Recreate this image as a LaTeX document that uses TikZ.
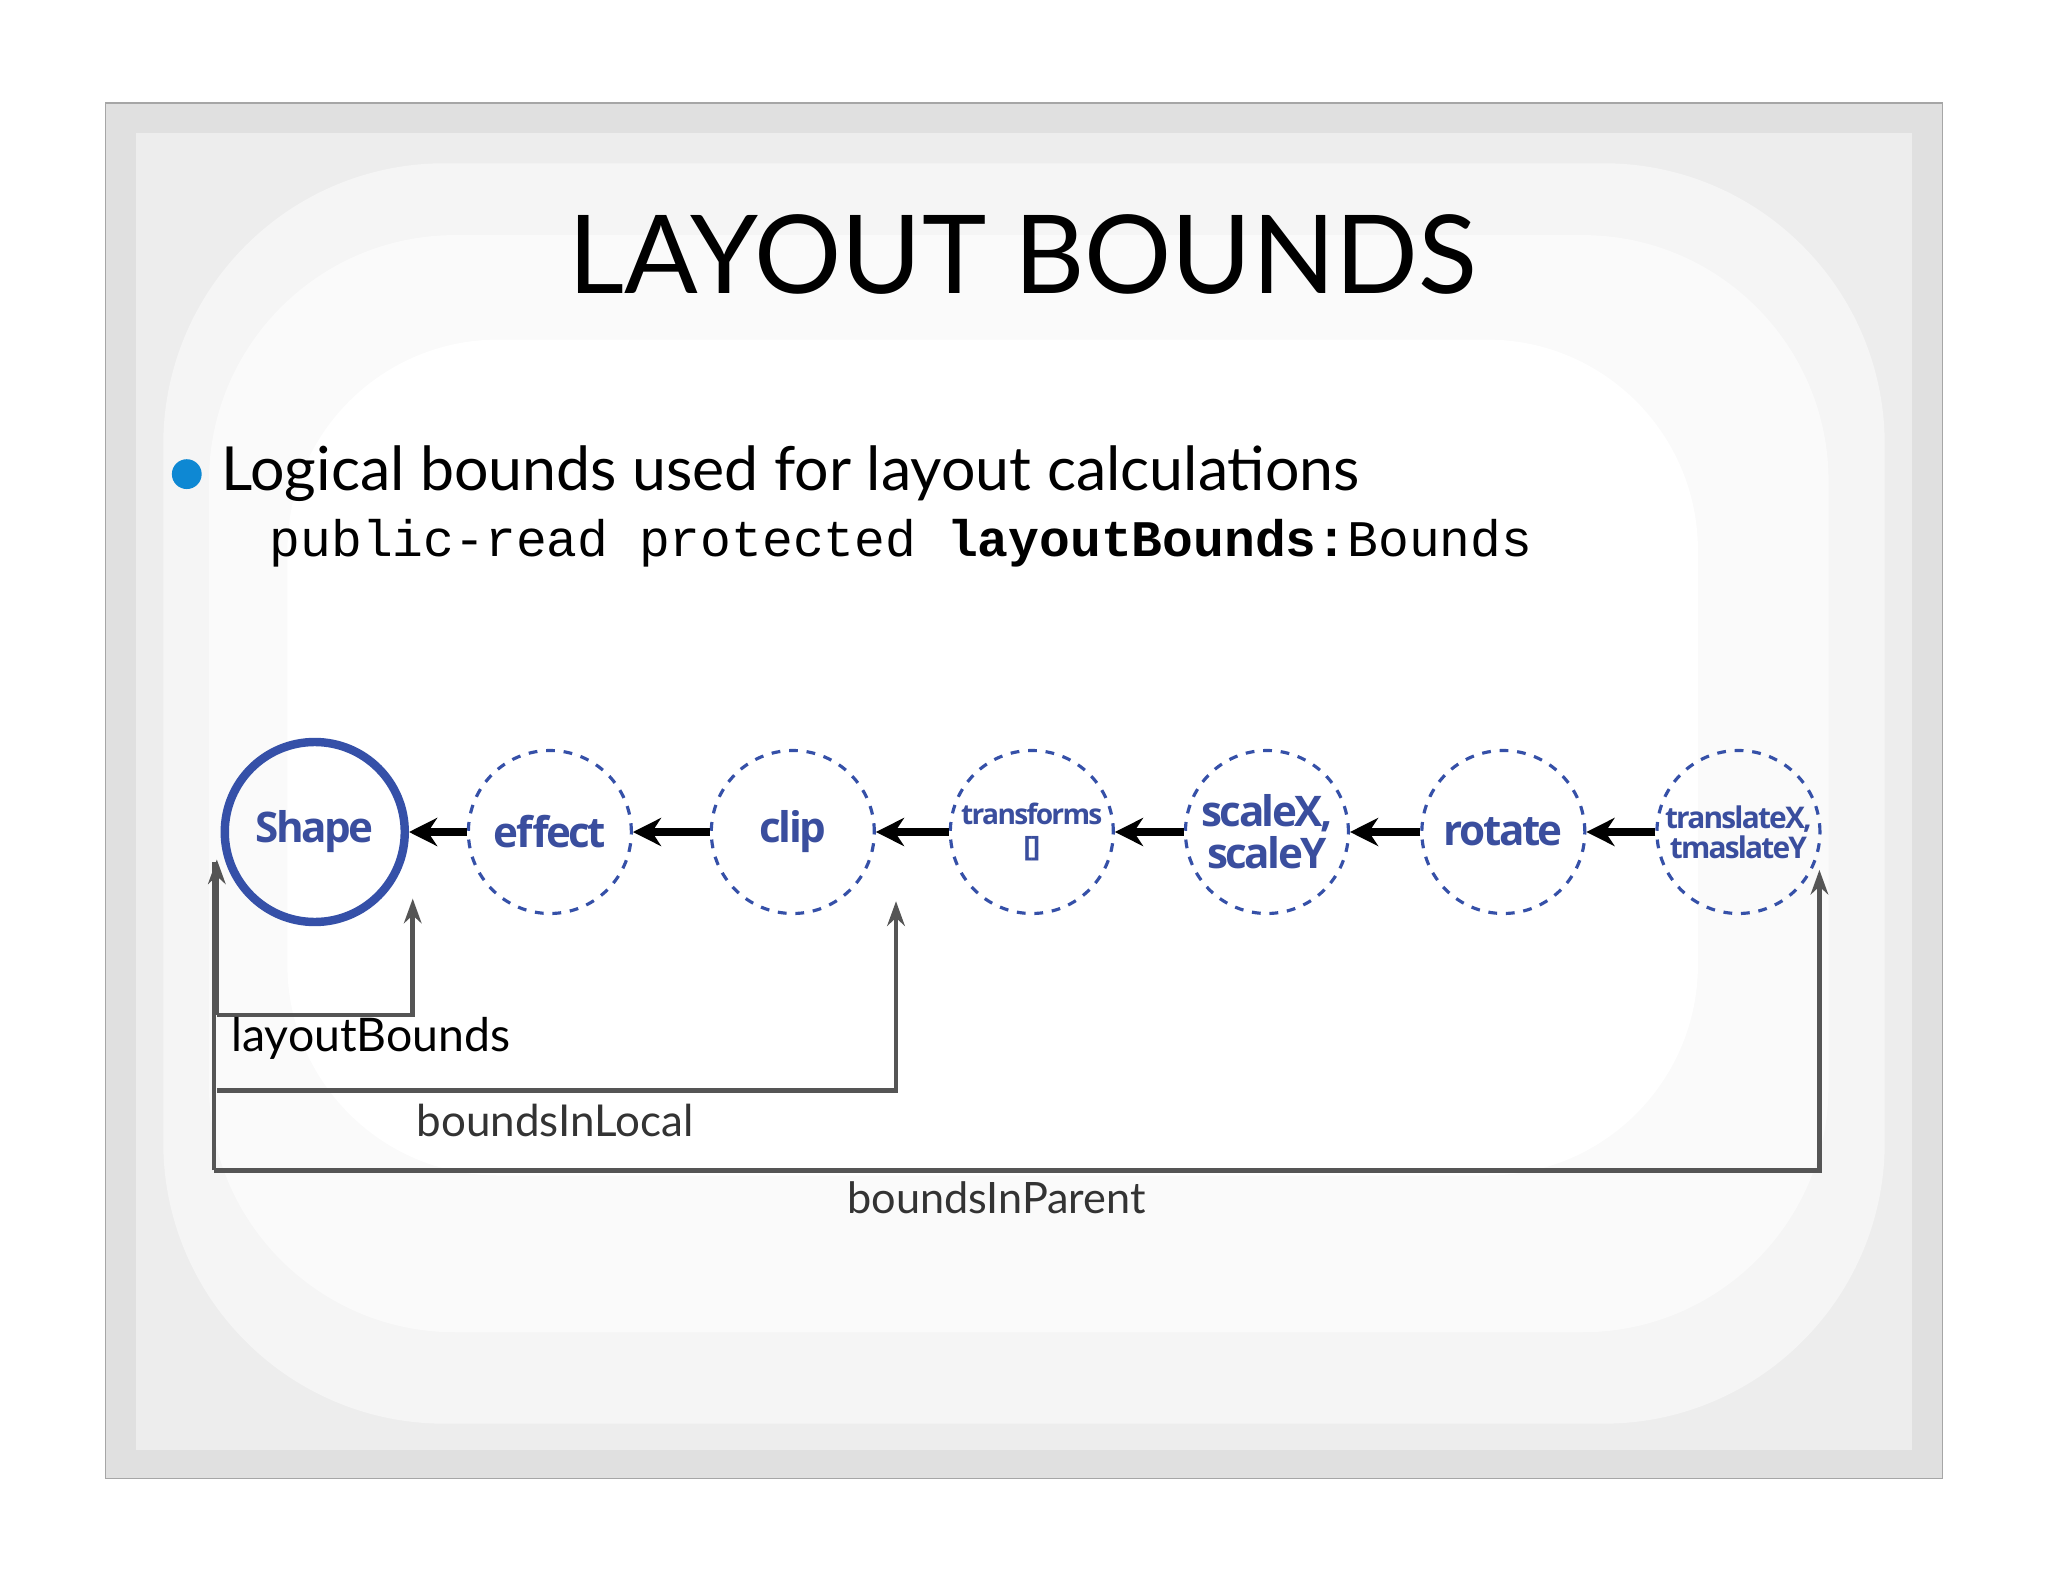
\documentclass[tikz,border=0pt]{standalone}
\usepackage{fontspec}
\setmainfont{Lato}
\newfontfamily\codefont{Liberation Mono}
\newfontfamily\circfont[LetterSpace=-6]{Open Sans}
\usetikzlibrary{arrows.meta}
\definecolor{cblue}{HTML}{3550A8}
\definecolor{tblue}{HTML}{3A4E9E}
\definecolor{lgray}{HTML}{555555}
\begin{document}
\begin{tikzpicture}[x=0.01306cm,y=-0.01306cm,
  solidc/.style={circle,draw=cblue,line width=2.4pt,minimum size=1.8cm,inner sep=0pt},
  dashc/.style={circle,draw=cblue,dashed,line width=0.9pt,dash pattern=on 2.5pt off 2.5pt,minimum size=1.63cm,inner sep=0pt,align=center},
  ctext/.style={font=\circfont\bfseries\fontsize{#1}{#1}\selectfont,text=tblue},
  flow/.style={-{Stealth[length=8pt,width=8pt]},line width=2pt,black},
  brk/.style={line width=1.3pt,lgray},
  brka/.style={brk,-{Stealth[length=7pt,width=5pt]}}]
\useasboundingbox (0,0) rectangle (1568,1211);
\fill[white] (0,0) rectangle (1568,1211);
\draw[gray!70,fill=black!12] (81,79) rectangle (1487,1132);
\fill[black!7] (104,102) rectangle (1464,1110);
\fill[black!4,rounded corners=80pt] (125,125) rectangle (1443,1090);
\fill[black!2,rounded corners=70pt] (160,180) rectangle (1400,1020);
\fill[white,rounded corners=60pt] (220,260) rectangle (1300,900);
\node (title) at (783,195) {\fontsize{31}{31}\selectfont LAYOUT BOUNDS};
\node[circle,fill=cyan!70!blue,inner sep=3pt] (bul) at (143,363) {};
\node[anchor=west] (b1) at (160,363) {\fontsize{17.3}{17.3}\selectfont Logical bounds used for layout calculations};
\node[anchor=west] (b2) at (197,416) {\codefont\fontsize{14.6}{14.6}\selectfont public-read protected \textbf{layoutBounds:}Bounds};
\node[solidc] (shape) at (241,637) {};
\node[ctext=12] at (shape) {Shape};
\node[dashc] (effect) at (421,637) {};
\node[ctext=12] at (effect) {effect};
\node[dashc] (clip) at (607,637) {};
\node[ctext=12] at (clip) {clip};
\node[dashc] (tr) at (790,637) {};
\node[ctext=8,align=center] at (tr) {transforms\\[1pt]{[]}};
\node[dashc] (sc) at (970,637) {};
\node[ctext=12,align=center] at (sc) {scaleX,\\scaleY};
\node[dashc] (rot) at (1151,637) {};
\node[ctext=12] at (rot) {rotate};
\node[dashc] (tx) at (1331,637) {};
\node[ctext=8.5,align=center] at (tx) {translateX,\\tmaslateY};
\draw[flow] (effect) -- (shape);
\draw[flow] (clip) -- (effect);
\draw[flow] (tr) -- (clip);
\draw[flow] (sc) -- (tr);
\draw[flow] (rot) -- (sc);
\draw[flow] (tx) -- (rot);
\coordinate (a1) at (166,658); \coordinate (a2) at (316,688);
\coordinate (a3) at (686,690); \coordinate (a4) at (1393,666);
\draw[brka] (166,777) -- (a1);
\draw[brka] (166,777) -- (316,777) -- (a2);
\draw[brka] (166,835) -- (686,835) -- (a3);
\draw[brk] (164,896) -- (164,660);
\draw[brka] (164,896) -- (1393,896) -- (a4);
\node (l1) at (284,795) {\fontsize{13.2}{13.2}\selectfont layoutBounds};
\node (l2) at (425,858) {\fontsize{12.5}{12.5}\selectfont\color{black!80}boundsInLocal};
\node (l3) at (763,917) {\fontsize{12.3}{12.3}\selectfont\color{black!80}boundsInParent};
\end{tikzpicture}
\end{document}
